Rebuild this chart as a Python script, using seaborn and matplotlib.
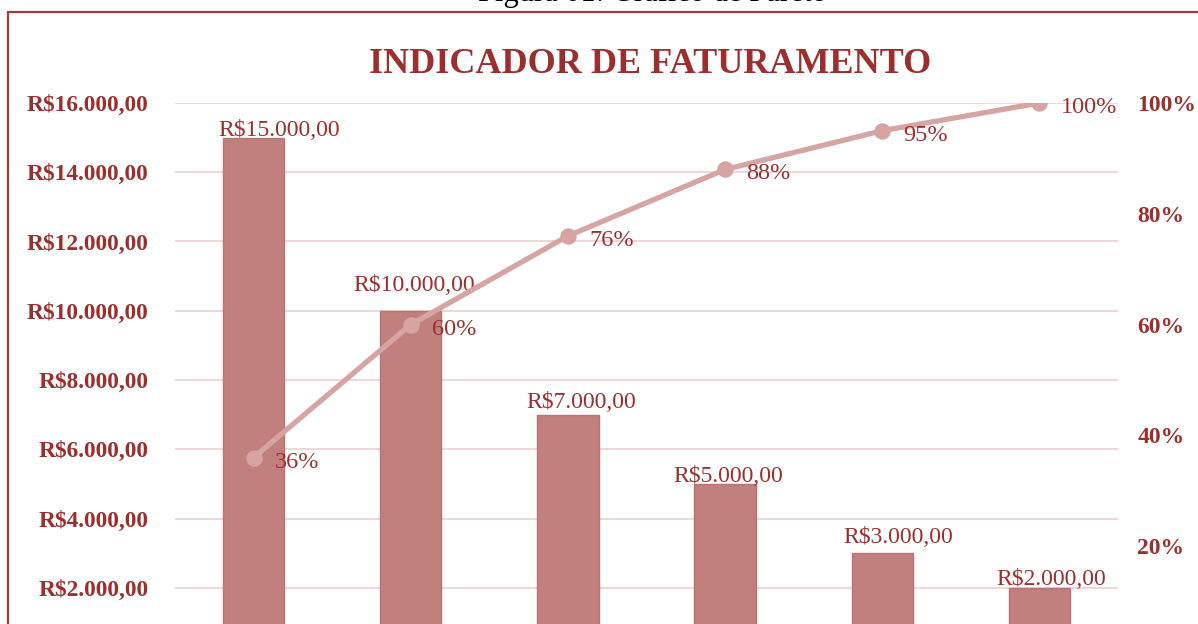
import matplotlib
matplotlib.use("Agg")
import matplotlib.pyplot as plt
import seaborn as sns
import pandas as pd
from matplotlib.lines import Line2D

# data
categorias = ["Item 1", "Item 2", "Item 3", "Item 4", "Item 5", "Item 6"]
faturamento = [15000, 10000, 7000, 5000, 3000, 2000]
acumulado = [36, 60, 76, 88, 95, 100]
ticks_valor = [2000, 4000, 6000, 8000, 10000, 12000, 14000, 16000]
ticks_pct = [20, 40, 60, 80, 100]

titulo = "INDICADOR DE FATURAMENTO"
legenda_fig = "Figura 01: Gráfico de Pareto"

# colours
COR_TEXTO = "#9C2E2E"
COR_BARRA = "#C17F7D"
COR_BORDA_BARRA = "#B87472"
COR_LINHA = "#D6A5A3"
COR_GRADE = "#EDD6D6"
COR_MOLDURA = "#A33B3A"


def brl(v):
    s = f"{v:,.2f}".replace(",", "X").replace(".", ",").replace("X", ".")
    return "R$" + s


sns.set_style("white")
plt.rcParams["font.family"] = ["Liberation Serif", "DejaVu Serif"]

df = pd.DataFrame({"cat": categorias, "valor": faturamento, "pct": acumulado})

fig = plt.figure(figsize=(11.98, 6.24), dpi=100)
W, H = 1198, 624

# plot area (0 sits below the visible crop)
ax = fig.add_axes([175 / W, -33 / H, 943 / W, 554 / H])

# -----------------------------
# Bars
# -----------------------------
sns.barplot(data=df, x="cat", y="valor", ax=ax, color=COR_BARRA, saturation=1,
            width=0.39, edgecolor=COR_BORDA_BARRA, linewidth=1, zorder=2)
ax.set_xlim(-0.5, len(categorias) - 0.5)
ax.set_ylim(0, 16000)
ax.set_yticks(ticks_valor)
ax.set_yticklabels([brl(t) for t in ticks_valor])
ax.set_axisbelow(True)
ax.yaxis.grid(True, color=COR_GRADE, linewidth=1.4)
ax.xaxis.grid(False)
ax.tick_params(axis="y", length=0, pad=19, labelsize=16.8, labelcolor=COR_TEXTO)
for lab in ax.get_yticklabels():
    lab.set_fontweight("bold")
ax.set_xlabel("")
ax.set_ylabel("")
ax.set_xticks([])
for s in ax.spines.values():
    s.set_visible(False)

# data labels on the bars (pixel nudges as in the original)
nudges = [(26, 2), (3, 20), (13, 7), (3, 2), (16, 10), (12, 3)]
for i, v in enumerate(faturamento):
    dx, dy = nudges[i]
    ax.annotate(brl(v), xy=(i, v), xytext=(dx * 0.72, dy * 0.72),
                textcoords="offset points", ha="center", va="baseline",
                fontsize=17, color=COR_TEXTO)

# -----------------------------
# Cumulative line
# -----------------------------
ax2 = ax.twinx()
sns.pointplot(data=df, x="cat", y="pct", ax=ax2, color=COR_LINHA, markers="o",
              markersize=9, linewidth=3.8, errorbar=None)
ax2.set_xlim(-0.5, len(categorias) - 0.5)
ax2.set_ylim(0, 100)
ax2.set_yticks(ticks_pct)
ax2.set_yticklabels([f"{t}%" for t in ticks_pct])
ax2.tick_params(axis="y", length=0, pad=14, labelsize=17, labelcolor=COR_TEXTO)
for lab in ax2.get_yticklabels():
    lab.set_fontweight("bold")
ax2.grid(False)
ax2.set_xlabel("")
ax2.set_ylabel("")
ax2.set_xticks([])
for s in ax2.spines.values():
    s.set_visible(False)

for i, p in enumerate(acumulado):
    ax2.annotate(f"{p}%", xy=(i, p), xytext=(21 * 0.72, -10 * 0.72),
                 textcoords="offset points", ha="left", va="baseline",
                 fontsize=17.5, color=COR_TEXTO)

# -----------------------------
# Title, caption and chart frame
# -----------------------------
fig.text(650 / W, (H - 73) / H, titulo, ha="center", va="baseline",
         fontsize=26, fontweight="bold", color=COR_TEXTO)
fig.text(652 / W, (H - 1) / H, legenda_fig, ha="center", va="baseline",
         fontsize=22, color="black")

fig.add_artist(Line2D([8 / W, 1.0], [(H - 12) / H, (H - 12) / H],
                      transform=fig.transFigure, color=COR_MOLDURA, lw=1.6))
fig.add_artist(Line2D([8 / W, 8 / W], [0, (H - 12) / H],
                      transform=fig.transFigure, color=COR_MOLDURA, lw=1.6))

fig.savefig("out.png", dpi=100)
plt.close(fig)
